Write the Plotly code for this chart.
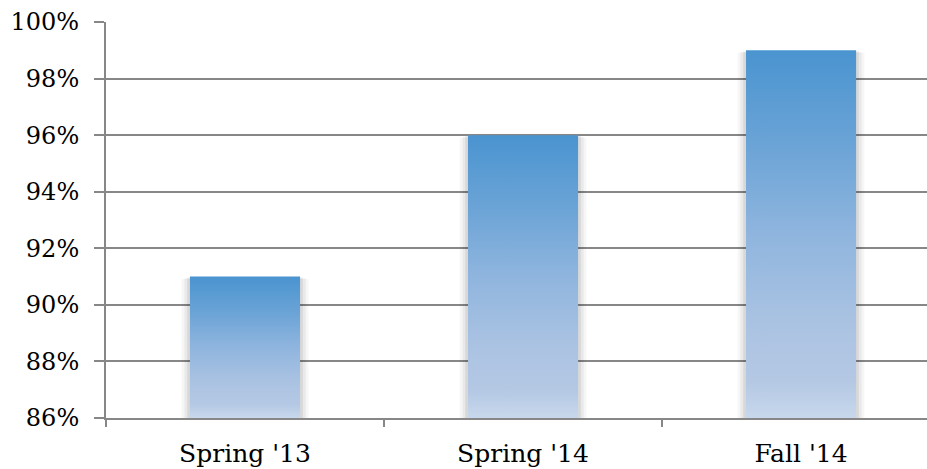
import plotly.graph_objects as go

# Survey results by term
terms = ["Spring '13", "Spring '14", "Fall '14"]
rates = [91, 96, 99]  # percent

y_min, y_max = 86, 100
bar_width = 0.396
font_family = "DejaVu Serif"

# Bottom-to-top vertical gradient used for every bar
gradient = [
    [0.0, "#c8d8ec"],
    [0.1, "#b4c8e4"],
    [0.25, "#abc3e2"],
    [0.5, "#8fb5de"],
    [0.75, "#6aa3d6"],
    [1.0, "#4a94d0"],
]

fig = go.Figure()

for i, (term, v) in enumerate(zip(terms, rates)):
    # soft drop shadow around each bar
    for pad, alpha in [(0.03, 0.035), (0.02, 0.05), (0.01, 0.07)]:
        xs = [i - bar_width / 2 - pad, i - bar_width / 2 - pad,
              i + bar_width / 2 + pad, i + bar_width / 2 + pad]
        ys = [y_min, v - pad * 3, v - pad * 3, y_min]
        fig.add_trace(go.Scatter(
            x=xs, y=ys, fill="toself", mode="none",
            fillcolor=f"rgba(0,0,0,{alpha})", hoverinfo="skip",
            showlegend=False,
        ))
    xs = [i - bar_width / 2, i - bar_width / 2, i + bar_width / 2, i + bar_width / 2]
    ys = [y_min, v, v, y_min]
    fig.add_trace(go.Scatter(
        x=xs, y=ys, fill="toself", mode="none", name=term,
        fillgradient=dict(type="vertical", colorscale=gradient,
                          start=y_min, stop=v),
        hovertemplate=f"{term}: {v}%<extra></extra>",
        showlegend=False,
    ))

grid_color = "#878787"

fig.update_layout(
    width=927, height=469,
    margin=dict(l=106, r=0, t=22, b=51),
    paper_bgcolor="white", plot_bgcolor="white",
    font=dict(family=font_family, size=24, color="#000000"),
    xaxis=dict(
        range=[-0.5, 2.453],
        tickmode="array",
        tickvals=list(range(len(terms))),
        ticktext=terms,
        ticks="",
        tickfont=dict(size=25),
        showgrid=False, zeroline=False,
        showline=True, linecolor=grid_color, linewidth=2,
        ticklabelstandoff=12,
        minor=dict(
            tickmode="array",
            tickvals=[i - 0.5 for i in range(len(terms) + 1)],
            ticks="outside", ticklen=7, tickwidth=2, tickcolor=grid_color,
            showgrid=False,
        ),
        fixedrange=True,
    ),
    yaxis=dict(
        range=[y_min, y_max],
        tick0=y_min, dtick=2,
        ticksuffix="%",
        tickfont=dict(size=24),
        showgrid=True, gridcolor=grid_color, gridwidth=2,
        zeroline=False,
        showline=True, linecolor=grid_color, linewidth=2,
        ticks="outside", ticklen=10, tickwidth=2, tickcolor=grid_color,
        ticklabelstandoff=10,
        fixedrange=True,
    ),
)

fig.write_html("out.html")
